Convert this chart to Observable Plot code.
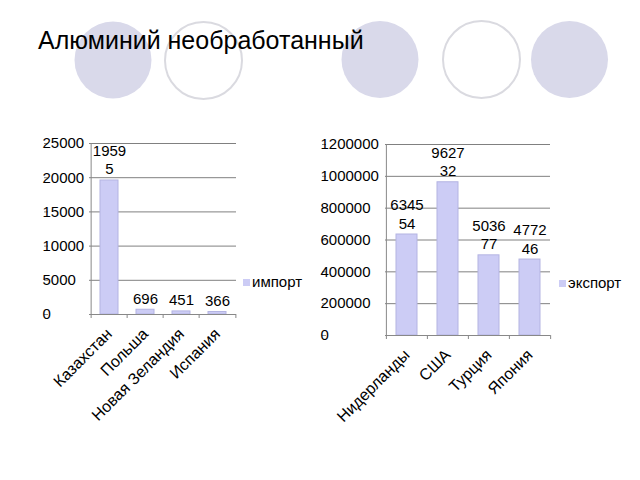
<!DOCTYPE html>
<html><head><meta charset="utf-8">
<script src="https://cdn.jsdelivr.net/npm/d3@7"></script>
<script src="https://cdn.jsdelivr.net/npm/@observablehq/plot@0.6"></script>
<style>
body{margin:0;width:640px;height:480px;position:relative;background:#fff;font-family:"Liberation Sans",Arial,sans-serif;overflow:hidden}
#deco{position:absolute;left:0;top:0}
#title{position:absolute;left:38px;top:26px;font-size:25px;line-height:29px;color:#000;white-space:nowrap}
.chart{position:absolute}
.legend{position:absolute;font-size:15px;line-height:18px;color:#000;white-space:nowrap}
.legend i{display:inline-block;width:7px;height:7px;background:#ccccf5;margin-right:2px;vertical-align:1px}
</style></head>
<body>
<svg id="deco" width="640" height="120">
  <circle cx="113" cy="60" r="38.5" fill="#d9d9ea"/>
  <circle cx="203.5" cy="60.5" r="38.5" fill="none" stroke="#dadae0" stroke-width="2"/>
  <circle cx="380" cy="59.5" r="38.5" fill="#d9d9ea"/>
  <circle cx="481.5" cy="59.5" r="38.5" fill="none" stroke="#dadae0" stroke-width="2"/>
  <circle cx="569.5" cy="59.5" r="38.5" fill="#d9d9ea"/>
</svg>
<div id="title">Алюминий необработанный</div>
<div id="c1" class="chart" style="left:0;top:120px"></div>
<div id="c2" class="chart" style="left:300px;top:120px"></div>
<div class="legend" style="left:243px;top:273px"><i></i>импорт</div>
<div class="legend" style="left:559px;top:274px"><i></i>экспорт</div>
<script>
const importCountries = ["Казахстан", "Польша", "Новая Зеландия", "Испания"];
const importValues = [19595, 696, 451, 366];
const importTicks = [0, 5000, 10000, 15000, 20000, 25000];

const exportCountries = ["Нидерланды", "США", "Турция", "Япония"];
const exportValues = [634554, 962732, 503677, 477246];
const exportTicks = [0, 200000, 400000, 600000, 800000, 1000000, 1200000];

function chart(cats, vals, ticks, o) {
  const data = cats.map((c, i) => ({c, v: vals[i]}));
  const step = (o.width - o.ml - o.mr) / cats.length;
  const wrap = v => String(v).match(/.{1,4}/g).join("\n");
  const last = cats[cats.length - 1];
  return Plot.plot({
    width: o.width, height: o.height,
    marginLeft: o.ml, marginRight: o.mr, marginTop: o.mt, marginBottom: o.mb,
    style: {fontFamily: "Liberation Sans, Arial, sans-serif", fontSize: "15px", color: "#000", background: "transparent", overflow: "visible"},
    x: {domain: cats, paddingInner: 0.5, paddingOuter: 0.25, label: null},
    y: {domain: [0, ticks[ticks.length - 1]], label: null},
    marks: [
      Plot.gridY(ticks, {stroke: "#808080", strokeOpacity: 1}),
      Plot.barY(data, {x: "c", y: "v", fill: "#ccccf5", stroke: "#b4b4e2", strokeWidth: 1}),
      Plot.ruleY([0], {stroke: "#888"}),
      Plot.ruleX([cats[0]], {dx: -step / 2, stroke: "#888"}),
      Plot.ruleX(cats, {x: d => d, y1: 0, y2: 0, dx: -step / 2, insetBottom: -4, stroke: "#888"}),
      Plot.ruleX([last], {x: d => d, y1: 0, y2: 0, dx: step / 2, insetBottom: -4, stroke: "#888"}),
      Plot.axisY(ticks, {tickSize: 4, tickPadding: 2, tickFormat: d3.format("d"), textAnchor: "start", dx: o.labelDx, stroke: "#888", fill: "#000", label: null}),
      Plot.axisX({tickSize: 0, tickRotate: -45, label: null, fill: "#000", fontSize: 16, dy: 5}),
      Plot.text(data, {x: "c", y: "v", text: d => wrap(d.v), lineAnchor: "bottom", dy: -6, lineHeight: 1.25, fill: "#000"})
    ]
  });
}

document.getElementById("c1").append(chart(importCountries, importValues, importTicks,
  {width: 320, height: 310, ml: 89, mr: 84, mt: 23, mb: 116, labelDx: -41}));
document.getElementById("c2").append(chart(exportCountries, exportValues, exportTicks,
  {width: 340, height: 310, ml: 85, mr: 90, mt: 24, mb: 95, labelDx: -59}));
</script>
</body></html>
